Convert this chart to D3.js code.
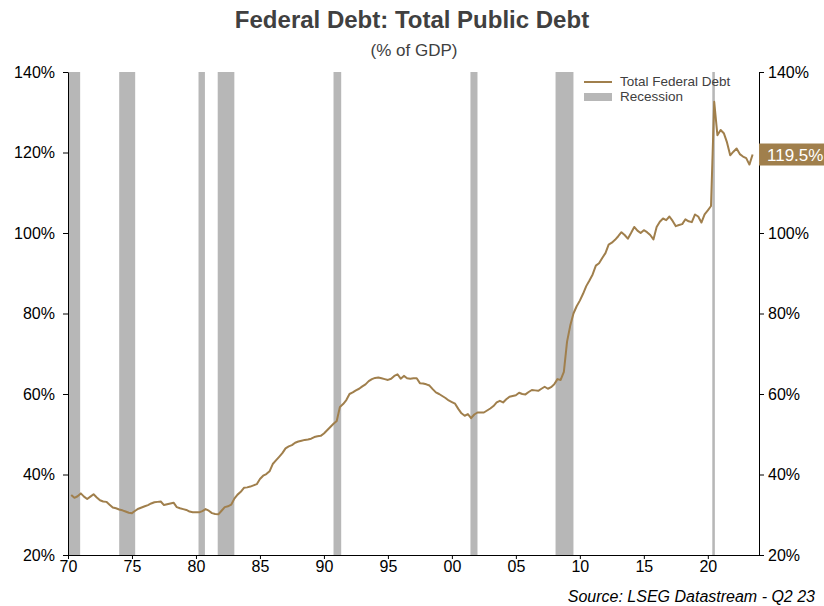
<!DOCTYPE html>
<html>
<head>
<meta charset="utf-8">
<script src="https://cdn.jsdelivr.net/npm/d3@7"></script>
<style>
  body { margin: 0; background: #fff; }
  svg { display: block; font-family: "Liberation Sans", Arial, sans-serif; }
</style>
</head>
<body>
<div id="chart"></div>
<script>
// quarterly debt % of GDP, 1970Q1 .. 2023Q2 (one row per year)
const debtByYear = [
  [34.9, 34.2, 34.6, 35.3], // 1970
  [34.5, 33.9, 34.5, 35.1],
  [34.3, 33.6, 33.3, 33.2],
  [32.5, 31.8, 31.6, 31.3],
  [31.1, 30.8, 30.5, 30.4],
  [31.0, 31.5, 31.8, 32.1], // 1975
  [32.4, 32.8, 33.1, 33.2],
  [33.3, 32.4, 32.6, 32.8],
  [33.0, 31.9, 31.6, 31.4],
  [31.2, 30.8, 30.6, 30.6],
  [30.6, 30.9, 31.4, 31.0], // 1980
  [30.4, 30.2, 30.1, 31.0],
  [31.9, 32.1, 32.5, 34.0],
  [35.0, 35.7, 36.7, 36.8],
  [37.0, 37.3, 37.6, 38.9],
  [39.7, 40.1, 40.8, 42.6], // 1985
  [43.5, 44.4, 45.3, 46.5],
  [47.0, 47.3, 47.9, 48.2],
  [48.4, 48.6, 48.7, 48.9],
  [49.3, 49.5, 49.6, 50.2],
  [51.0, 51.8, 52.6, 53.3], // 1990
  [56.8, 57.5, 58.5, 60.0],
  [60.4, 60.9, 61.3, 61.9],
  [62.4, 63.2, 63.7, 64.0],
  [64.1, 63.9, 63.7, 63.5],
  [63.8, 64.5, 64.9, 63.8], // 1995
  [64.5, 63.9, 63.8, 63.9],
  [63.9, 62.7, 62.6, 62.4],
  [62.1, 61.2, 60.4, 60.0],
  [59.5, 59.0, 58.4, 58.0],
  [57.6, 56.3, 55.2, 54.6], // 2000
  [55.0, 54.0, 54.9, 55.4],
  [55.4, 55.4, 55.9, 56.4],
  [57.0, 57.9, 58.3, 57.9],
  [58.7, 59.3, 59.5, 59.7],
  [60.3, 60.0, 59.9, 60.5], // 2005
  [61.0, 60.9, 60.8, 61.3],
  [61.8, 61.3, 61.7, 62.4],
  [63.7, 63.5, 65.5, 73.0],
  [77.0, 80.0, 81.8, 83.2],
  [84.9, 86.8, 88.2, 89.7], // 2010
  [91.9, 92.5, 93.8, 95.0],
  [97.1, 97.6, 98.3, 99.2],
  [100.2, 99.5, 98.6, 100.0],
  [101.5, 100.6, 100.0, 100.7],
  [100.2, 99.5, 98.4, 101.5], // 2015
  [102.8, 103.6, 103.2, 104.1],
  [103.0, 101.7, 102.0, 102.2],
  [103.4, 102.9, 102.7, 104.6],
  [104.1, 102.6, 104.6, 105.6],
  [106.7, 132.6, 124.3, 125.6], // 2020
  [124.8, 122.5, 119.3, 120.2],
  [121.0, 119.6, 119.0, 118.6],
  [117.0, 119.5]
];
const firstYear = 1970;

// recession spans in fractional years
const recessionStart = [1970.0, 1974.0, 1980.2, 1981.7, 1990.75, 2001.45, 2008.1, 2020.35];
const recessionEnd   = [1970.95, 1975.25, 1980.7, 1983.0, 1991.35, 2002.0, 2009.5, 2020.55];

const yTicks = [20, 40, 60, 80, 100, 120, 140];
const xTickYears = [1970, 1975, 1980, 1985, 1990, 1995, 2000, 2005, 2010, 2015, 2020];
const lastLabel = "119.5%";

const lineColor = "#a07f4c";
const W = 824, H = 606;
const margin = { top: 72, right: 65, bottom: 51, left: 68 };

const series = [];
debtByYear.forEach((row, i) => {
  row.forEach((v, q) => series.push({ t: firstYear + i + (q + 1) / 4, v }));
});

const svg = d3.select("#chart").append("svg").attr("width", W).attr("height", H);

const x = d3.scaleLinear().domain([1970, 2024]).range([margin.left, W - margin.right]);
const y = d3.scaleLinear().domain([20, 140]).range([H - margin.bottom, margin.top]);

// title
svg.append("text").attr("x", 412).attr("y", 28).attr("text-anchor", "middle")
  .attr("font-size", 24).attr("font-weight", "bold").attr("fill", "#404040")
  .text("Federal Debt: Total Public Debt");
svg.append("text").attr("x", 414).attr("y", 56).attr("text-anchor", "middle")
  .attr("font-size", 17).attr("fill", "#404040").text("(% of GDP)");

// recession bars
svg.append("g").selectAll("rect")
  .data(recessionStart.map((s, i) => [s, recessionEnd[i]]))
  .enter().append("rect")
  .attr("x", d => x(d[0]))
  .attr("width", d => Math.max(2, x(d[1]) - x(d[0])))
  .attr("y", y(140))
  .attr("height", y(20) - y(140))
  .attr("fill", "#b7b7b7");

// line
svg.append("path").datum(series)
  .attr("fill", "none").attr("stroke", lineColor).attr("stroke-width", 2)
  .attr("stroke-linejoin", "round")
  .attr("d", d3.line().x(d => x(d.t)).y(d => y(d.v)));

const fmtPct = d => d + "%";
const styleAxis = g => {
  g.selectAll("path").attr("stroke", "#000");
  g.selectAll("line").attr("stroke", "#000");
  g.selectAll("text").attr("fill", "#000").attr("font-size", 16)
    .attr("font-family", "'Liberation Sans', Arial, sans-serif");
};

svg.append("g").attr("transform", `translate(${margin.left},0)`)
  .call(d3.axisLeft(y).tickValues(yTicks).tickFormat(fmtPct).tickSize(5).tickSizeOuter(0).tickPadding(8))
  .call(styleAxis);

svg.append("g").attr("transform", `translate(${W - margin.right},0)`)
  .call(d3.axisRight(y).tickValues(yTicks).tickFormat(fmtPct).tickSize(5).tickSizeOuter(0).tickPadding(4))
  .call(styleAxis);

svg.append("g").attr("transform", `translate(0,${H - margin.bottom})`)
  .call(d3.axisBottom(x).tickValues(xTickYears).tickFormat(d => String(d).slice(2)).tickSize(4).tickSizeOuter(0).tickPadding(2))
  .call(styleAxis);

// last value badge
const last = series[series.length - 1];
svg.append("rect").attr("x", W - margin.right).attr("y", y(last.v) - 11)
  .attr("width", margin.right).attr("height", 22).attr("fill", lineColor);
svg.append("text").attr("x", W - margin.right + 8).attr("y", y(last.v) + 6)
  .attr("font-size", 17).attr("fill", "#fff").text(lastLabel);

// legend
const lg = svg.append("g").attr("transform", "translate(584,82)");
lg.append("line").attr("x1", 0).attr("x2", 28).attr("y1", 0).attr("y2", 0)
  .attr("stroke", lineColor).attr("stroke-width", 2);
lg.append("text").attr("x", 36).attr("y", 4).attr("font-size", 13.5).attr("fill", "#404040")
  .text("Total Federal Debt");
lg.append("rect").attr("x", 0).attr("y", 11).attr("width", 28).attr("height", 8).attr("fill", "#b7b7b7");
lg.append("text").attr("x", 36).attr("y", 19).attr("font-size", 13.5).attr("fill", "#404040")
  .text("Recession");

// source
svg.append("text").attr("x", 815).attr("y", 602).attr("text-anchor", "end")
  .attr("font-size", 16).attr("font-style", "italic").attr("fill", "#000")
  .text("Source: LSEG Datastream - Q2 23");
</script>
</body>
</html>
